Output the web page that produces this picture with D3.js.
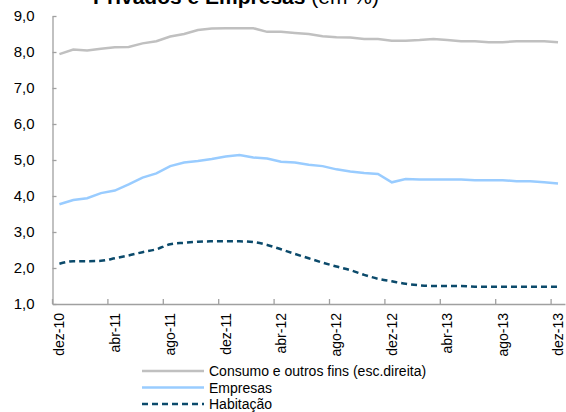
<!DOCTYPE html>
<html>
<head>
<meta charset="utf-8">
<script src="https://cdn.jsdelivr.net/npm/d3@7"></script>
<style>
  body { margin: 0; background: #fff; }
  svg { font-family: "Liberation Sans", Arial, sans-serif; }
</style>
</head>
<body>
<svg id="chart" width="566" height="412"></svg>
<script>
// meses (dez-10 a dez-13)
const months = ['dez-10','jan-11','fev-11','mar-11','abr-11','mai-11','jun-11','jul-11','ago-11','set-11','out-11','nov-11',
  'dez-11','jan-12','fev-12','mar-12','abr-12','mai-12','jun-12','jul-12','ago-12','set-12','out-12','nov-12',
  'dez-12','jan-13','fev-13','mar-13','abr-13','mai-13','jun-13','jul-13','ago-13','set-13','out-13','nov-13','dez-13']

// séries (em %)
const consumo = [7.94,8.07,8.04,8.09,8.13,8.14,8.24,8.30,8.43,8.50,8.61,8.65,8.66,8.66,8.66,8.56,8.56,8.53,8.50,8.44,
  8.41,8.40,8.36,8.36,8.31,8.31,8.33,8.36,8.33,8.30,8.30,8.27,8.27,8.30,8.30,8.30,8.27]
const empresas = [3.77,3.89,3.94,4.08,4.15,4.32,4.51,4.63,4.83,4.93,4.97,5.03,5.10,5.14,5.07,5.04,4.95,4.93,4.87,4.83,
  4.74,4.68,4.64,4.61,4.38,4.47,4.46,4.46,4.46,4.46,4.44,4.44,4.44,4.41,4.41,4.38,4.35]
const habitacao = [2.12,2.19,2.19,2.20,2.27,2.35,2.44,2.52,2.66,2.70,2.73,2.74,2.74,2.74,2.72,2.64,2.52,2.39,2.27,2.15,
  2.04,1.94,1.81,1.70,1.63,1.56,1.52,1.50,1.50,1.50,1.48,1.48,1.48,1.48,1.48,1.48,1.48]

const yTicks = [1,2,3,4,5,6,7,8,9]

const svg = d3.select('#chart')
const axisColor = '#a0a0a0'

const x = d3.scaleBand().domain(months).range([52.5, 52.5 + 37 * 13.85])
const y = d3.scaleLinear().domain([1, 9]).range([304, 16])
const cx = d => x(d) + x.bandwidth() / 2
const fmt = v => v.toFixed(1).replace('.', ',')

// titulo (cortado no topo, só se vê a parte de baixo)
const title = svg.append('text').attr('x', 93).attr('y', 4).style('font-size', '21px')
title.append('tspan').style('font-weight', 'bold').text('Privados e Empresas ')
title.append('tspan').text('(em %)')

// eixo y
const yAxis = d3.axisLeft(y).tickValues(yTicks).tickSizeInner(-4).tickSizeOuter(0).tickPadding(18).tickFormat(fmt)
const gy = svg.append('g').attr('transform', 'translate(52.5,0)').call(yAxis)
gy.selectAll('path, line').attr('stroke', axisColor).attr('stroke-width', 1.3)
gy.selectAll('text').style('font-size', '15px').attr('fill', '#000')

// eixo x
const xAxis = d3.axisBottom(x).tickValues(months.filter((d, i) => i % 4 === 0)).tickSize(0).tickPadding(9)
const gx = svg.append('g').attr('transform', 'translate(0,304)').call(xAxis)
gx.select('path').attr('stroke', axisColor).attr('stroke-width', 1.3)
gx.selectAll('text')
  .style('font-size', '14px').attr('fill', '#000')
  .attr('transform', 'rotate(-90)')
  .attr('text-anchor', 'end')
  .attr('x', -9).attr('y', 0).attr('dy', '0.35em')
gx.selectAll('.tick').append('line')
  .attr('x1', -x.bandwidth() / 2).attr('x2', -x.bandwidth() / 2)
  .attr('y1', 0).attr('y2', -5)
  .attr('stroke', axisColor).attr('stroke-width', 1.3)

// linhas
const series = [
  { name: 'Consumo e outros fins (esc.direita)', values: consumo, color: '#c0c0c0', dash: null, curve: d3.curveLinear },
  { name: 'Empresas', values: empresas, color: '#99ccff', dash: null, curve: d3.curveLinear },
  { name: 'Habitação', values: habitacao, color: '#0b4a6b', dash: '6,4', curve: d3.curveMonotoneX }
]

series.forEach(s => {
  const line = d3.line().x((v, i) => cx(months[i])).y(v => y(v)).curve(s.curve)
  svg.append('path')
    .datum(s.values)
    .attr('d', line)
    .attr('fill', 'none')
    .attr('stroke', s.color)
    .attr('stroke-width', 2.5)
    .attr('stroke-dasharray', s.dash)
})

// legenda
const legend = svg.append('g').attr('transform', 'translate(142,371)')
series.forEach((s, i) => {
  const row = legend.append('g').attr('transform', `translate(0,${i * 16.5})`)
  row.append('line').attr('x1', 0).attr('x2', 62).attr('y1', 0).attr('y2', 0)
    .attr('stroke', s.color).attr('stroke-width', 2.5).attr('stroke-dasharray', s.dash)
  row.append('text').attr('x', 67).attr('y', 0).attr('dy', '0.36em').style('font-size', '14px').text(s.name)
})
</script>
</body>
</html>
